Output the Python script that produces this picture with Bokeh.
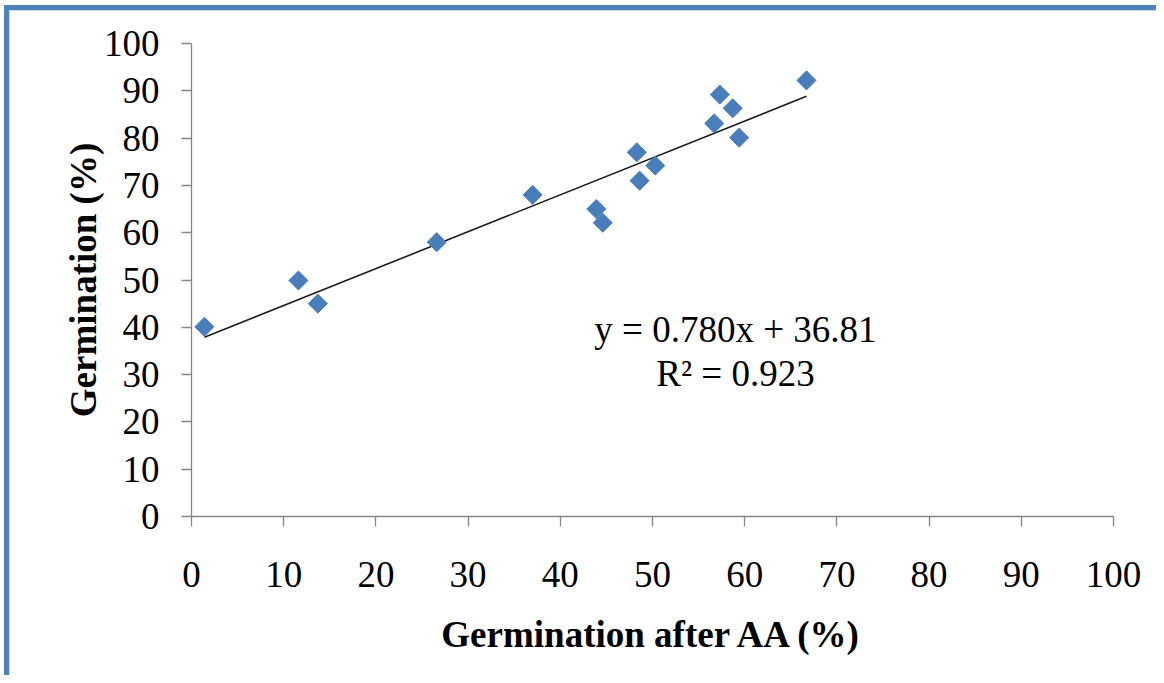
import numpy as np
from bokeh.plotting import figure
from bokeh.models import ColumnDataSource, FixedTicker, Range1d
from bokeh.core.properties import value
from bokeh.embed import file_html
from bokeh.resources import INLINE

# Data
germ_after_aa = [1.4, 11.6, 13.7, 26.6, 37.0, 43.9, 44.6, 48.3, 48.6, 50.3, 56.7, 57.3, 58.7, 59.4, 66.7]
germination = [40.1, 49.9, 45.0, 58.0, 68.0, 65.0, 62.1, 77.0, 71.0, 74.2, 83.1, 89.2, 86.3, 80.1, 92.2]
slope = 0.780
intercept = 36.81
r_squared = 0.923
x_ticks = [0, 10, 20, 30, 40, 50, 60, 70, 80, 90, 100]
y_ticks = [0, 10, 20, 30, 40, 50, 60, 70, 80, 90, 100]
x_title = "Germination after AA (%)"
y_title = "Germination (%)"

FONT = "Liberation Serif"
BLUE = "#4A7EBB"
AXIS = "#868686"

p = figure(width=1156, height=675, output_backend="svg", toolbar_location=None,
           x_range=Range1d(0, 100), y_range=Range1d(0, 100),
           min_border_left=191, min_border_right=43, min_border_top=43, min_border_bottom=159)
p.outline_line_color = None
p.xgrid.grid_line_color = None
p.ygrid.grid_line_color = None
p.background_fill_color = None
p.border_fill_color = None
# Blue chart frame along the top and left edges (drawn as inset shadows behind the transparent canvas)
p.styles = {
    "box-shadow": "inset 4px 5px 0 0 #FFFFFF, inset 9px 10px 0 0 #4F81BD, inset 10px 11px 0 0 #C9D8EC",
    "background-color": "#FFFFFF",
}

for ax, ticks in ((p.xaxis[0], x_ticks), (p.yaxis[0], y_ticks)):
    ax.ticker = FixedTicker(ticks=ticks)
    ax.minor_tick_line_color = None
    ax.major_tick_in = 0
    ax.major_tick_out = 10
    ax.axis_line_color = AXIS
    ax.major_tick_line_color = AXIS
    ax.axis_line_width = 1.3
    ax.major_tick_line_width = 1.3
    ax.major_label_text_font = FONT
    ax.major_label_text_font_size = "37px"
    ax.major_label_text_color = "black"
    ax.axis_label_text_font = FONT
    ax.axis_label_text_font_size = "37px"
    ax.axis_label_text_font_style = "bold"
    ax.axis_label_text_color = "black"

p.xaxis.axis_label = x_title
p.yaxis.axis_label = y_title
p.xaxis.major_label_standoff = 35
p.yaxis.major_label_standoff = 22
p.xaxis.axis_label_standoff = 24
p.yaxis.axis_label_standoff = -3

# Trend line over the data range
xs = np.array([min(germ_after_aa), max(germ_after_aa)])
p.line(xs, slope * xs + intercept, line_color="#1a1a1a", line_width=1.6)

src = ColumnDataSource(dict(x=germ_after_aa, y=germination))
p.scatter("x", "y", source=src, marker="square", angle=np.pi / 4, size=13.5,
          fill_color=BLUE, line_color=BLUE)

eq_lines = [f"y = {slope:.3f}x + {intercept:.2f}", f"R\u00b2 = {r_squared:.3f}"]
p.text(x=[59.0, 59.0], y=[39.5, 30.2], text=eq_lines, text_font=value(FONT),
       text_font_size="37px", text_align="center", text_baseline="alphabetic",
       text_color="black")

open("out.html", "w").write(file_html(p, INLINE))
